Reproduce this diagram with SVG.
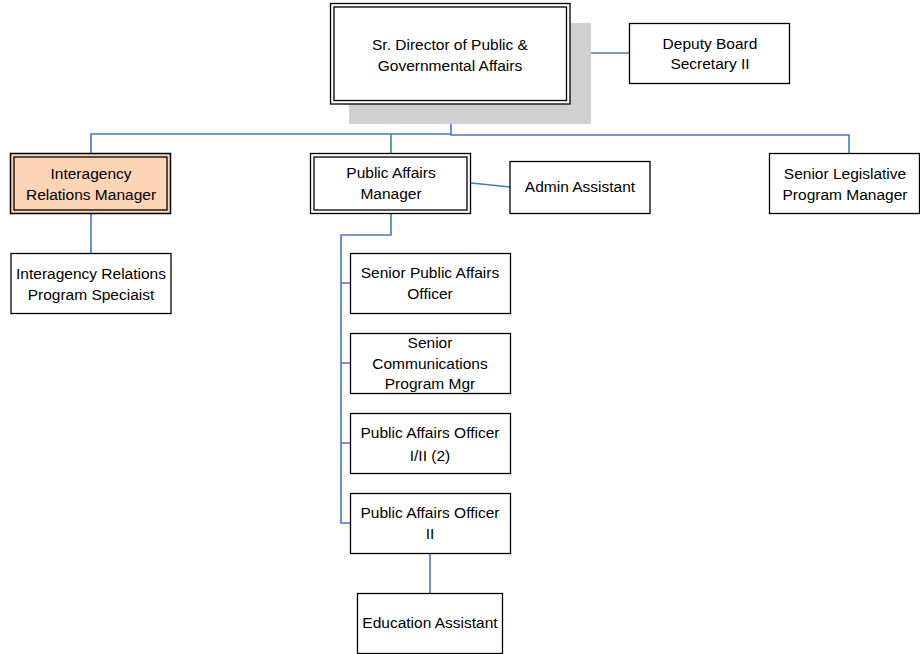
<svg xmlns="http://www.w3.org/2000/svg" width="920" height="654" viewBox="0 0 920 654">
<style>
.box{fill:#fff;stroke:#000;stroke-width:1.3}
.in{fill:none;stroke:#000;stroke-width:1.3}
.con{fill:none;stroke:#4a76c0;stroke-width:1.6}
text{font-family:"Liberation Sans",Arial,sans-serif;font-size:15.5px;fill:#000;text-anchor:middle}
</style>
<rect width="920" height="654" fill="#fff"/>
<g id="connectors">
<path class="con" d="M451,104 V135 H849 V153"/>
<path class="con" d="M91,153 V134 H451"/>
<path class="con" d="M391,134 V153"/>
<path class="con" d="M570,53 H629"/>
<path class="con" d="M91,214 V253"/>
<path class="con" d="M471,183 L510,187"/>
<path class="con" d="M391,214 V235 H341 V523 H350"/>
<path class="con" d="M341,283 H350 M341,363 H350 M341,443 H350"/>
<path class="con" d="M430,553 V593"/>
</g>
<g id="sr-director">
<rect x="349" y="23" width="242" height="101" fill="#d0d0d0"/>
<rect class="box" x="330.5" y="3.5" width="239.5" height="100.5" stroke-width="1.6"/>
<rect class="in" x="334" y="7" width="232.5" height="93.5"/>
<text x="450" y="50">Sr. Director of Public &amp;</text>
<text x="450" y="71">Governmental Affairs</text>
</g>
<g id="deputy">
<rect class="box" x="629.5" y="23.5" width="160" height="60"/>
<text x="710" y="49">Deputy Board</text>
<text x="710" y="69">Secretary II</text>
</g>
<g id="interagency-mgr">
<rect x="10.5" y="153.5" width="160" height="60" fill="#fbd5b5" stroke="#000" stroke-width="1.5"/>
<rect class="in" x="14" y="157" width="153" height="53"/>
<text x="91" y="179">Interagency</text>
<text x="91" y="200">Relations Manager</text>
</g>
<g id="interagency-spec">
<rect class="box" x="11" y="253.5" width="160" height="60"/>
<text x="91" y="279">Interagency Relations</text>
<text x="91" y="300">Program Speciaist</text>
</g>
<g id="pa-manager">
<rect class="box" x="310.5" y="153.5" width="160" height="60" stroke-width="1.5"/>
<rect class="in" x="314" y="157" width="153" height="53"/>
<text x="391" y="178">Public Affairs</text>
<text x="391" y="199">Manager</text>
</g>
<g id="admin">
<rect class="box" x="510" y="161.5" width="140" height="52"/>
<text x="580" y="192">Admin Assistant</text>
</g>
<g id="senior-legislative">
<rect class="box" x="769.5" y="153.5" width="150" height="60"/>
<text x="845" y="179">Senior Legislative</text>
<text x="845" y="200">Program Manager</text>
</g>
<g id="senior-pao">
<rect class="box" x="350.5" y="253.5" width="160" height="60"/>
<text x="430" y="278">Senior Public Affairs</text>
<text x="430" y="299">Officer</text>
</g>
<g id="senior-comms">
<rect class="box" x="350.5" y="333.5" width="160" height="60"/>
<text x="430" y="348">Senior</text>
<text x="430" y="369">Communications</text>
<text x="430" y="389">Program Mgr</text>
</g>
<g id="pao-1-2">
<rect class="box" x="350.5" y="413.5" width="160" height="60"/>
<text x="430" y="438">Public Affairs Officer</text>
<text x="430" y="461">I/II (2)</text>
</g>
<g id="pao-2">
<rect class="box" x="350.5" y="493.5" width="160" height="60"/>
<text x="430" y="518">Public Affairs Officer</text>
<text x="430" y="539">II</text>
</g>
<g id="education">
<rect class="box" x="357.5" y="593.5" width="145" height="60"/>
<text x="430" y="628">Education Assistant</text>
</g>
</svg>
